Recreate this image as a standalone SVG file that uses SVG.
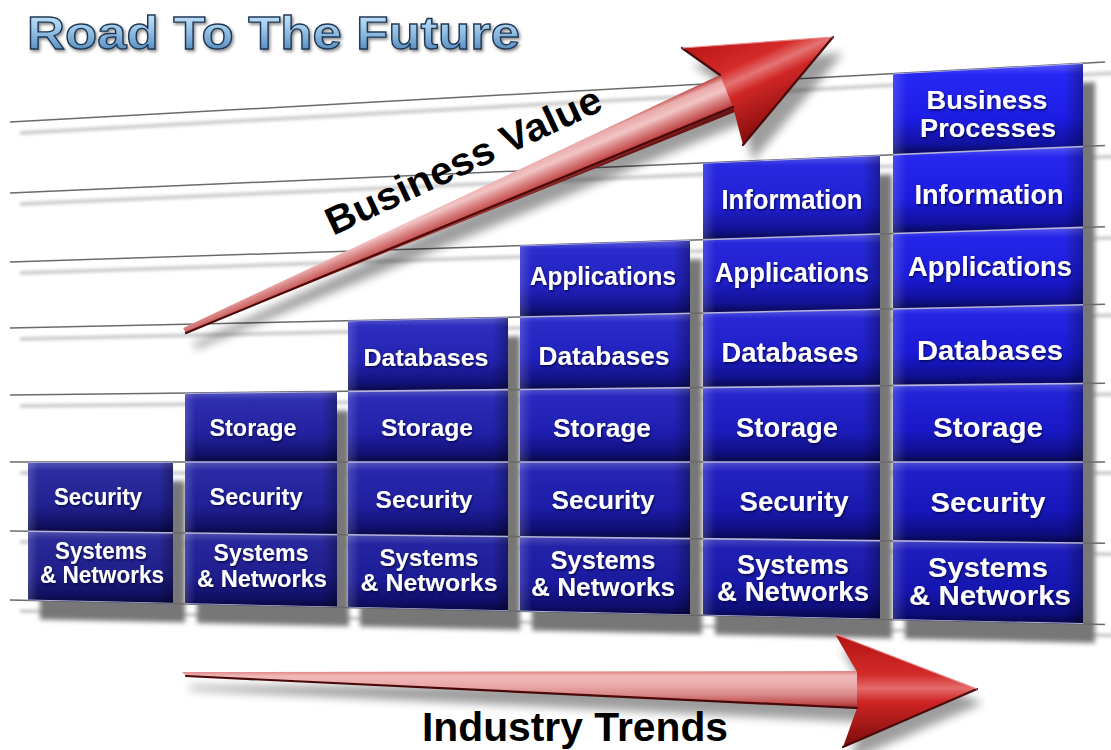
<svg xmlns="http://www.w3.org/2000/svg" xmlns:xlink="http://www.w3.org/1999/xlink" width="1111" height="750" viewBox="0 0 1111 750">
  <defs>
    <style>
      .lbl { font-family: "Liberation Sans", Arial, Helvetica, sans-serif; font-weight: bold; fill: #ffffff; text-anchor: middle; filter: url(#txtShadow); }
      .c1 .lbl { font-size: 23px; }
      .c2 .lbl { font-size: 23.5px; }
      .c3 .lbl { font-size: 24.5px; }
      .c4 .lbl { font-size: 25.5px; }
      .c5 .lbl { font-size: 27px; }
      .c6 .lbl { font-size: 28px; }
      .c6 .lbl.tight { font-size: 26.5px; }
      .caption { font-family: "Liberation Sans", Arial, Helvetica, sans-serif; font-weight: bold; fill: #000000; }
      .grid path { fill: none; }
      .shade-v { fill: url(#shadeV); }
      .shade-h { fill: url(#shadeH); }
      .edge { fill: none; stroke: #4a0909; stroke-width: 2.2; stroke-linecap: round; }
    </style>

    <!-- soft blurs for cast shadows -->
    <filter id="blurSm" x="-5%" y="-50%" width="110%" height="200%">
      <feGaussianBlur stdDeviation="1.6"/>
    </filter>
    <filter id="blurMd" x="-10%" y="-10%" width="120%" height="120%">
      <feGaussianBlur stdDeviation="2.6"/>
    </filter>
    <filter id="blurLg" x="-10%" y="-20%" width="120%" height="140%">
      <feGaussianBlur stdDeviation="5"/>
    </filter>
    <filter id="txtShadow" x="-10%" y="-30%" width="120%" height="160%">
      <feDropShadow dx="1" dy="1.5" stdDeviation="0.9" flood-color="#000030" flood-opacity="0.75"/>
    </filter>
    <filter id="titleShadow" x="-5%" y="-30%" width="110%" height="160%">
      <feDropShadow dx="1.5" dy="2" stdDeviation="1.5" flood-color="#000000" flood-opacity="0.45"/>
    </filter>

    <!-- title fill -->
    <linearGradient id="titleFill" x1="0" y1="0" x2="0" y2="1">
      <stop offset="0" stop-color="#d6ecfb"/>
      <stop offset="0.35" stop-color="#a9d0ef"/>
      <stop offset="0.7" stop-color="#6fa2cf"/>
      <stop offset="1" stop-color="#3a6c9c"/>
    </linearGradient>

    <!-- tile gradients, one per column -->
    <linearGradient id="cellG1" x1="0" y1="0" x2="0" y2="1">
      <stop offset="0" stop-color="#6a6ad8"/>
      <stop offset="0.12" stop-color="#3838c2"/>
      <stop offset="0.6" stop-color="#2b2bb2"/>
      <stop offset="0.88" stop-color="#17177a"/>
      <stop offset="1" stop-color="#0a0a42"/>
    </linearGradient>
    <linearGradient id="cellG2" x1="0" y1="0" x2="0" y2="1">
      <stop offset="0" stop-color="#6868dc"/>
      <stop offset="0.12" stop-color="#3535c8"/>
      <stop offset="0.6" stop-color="#2929ba"/>
      <stop offset="0.88" stop-color="#161680"/>
      <stop offset="1" stop-color="#0a0a46"/>
    </linearGradient>
    <linearGradient id="cellG3" x1="0" y1="0" x2="0" y2="1">
      <stop offset="0" stop-color="#6666e2"/>
      <stop offset="0.12" stop-color="#3232d0"/>
      <stop offset="0.6" stop-color="#2727c4"/>
      <stop offset="0.88" stop-color="#151588"/>
      <stop offset="1" stop-color="#0a0a4a"/>
    </linearGradient>
    <linearGradient id="cellG4" x1="0" y1="0" x2="0" y2="1">
      <stop offset="0" stop-color="#6464ea"/>
      <stop offset="0.12" stop-color="#2f2fda"/>
      <stop offset="0.6" stop-color="#2424d0"/>
      <stop offset="0.88" stop-color="#141490"/>
      <stop offset="1" stop-color="#0a0a4e"/>
    </linearGradient>
    <linearGradient id="cellG5" x1="0" y1="0" x2="0" y2="1">
      <stop offset="0" stop-color="#6060f4"/>
      <stop offset="0.12" stop-color="#2b2be8"/>
      <stop offset="0.6" stop-color="#2121dc"/>
      <stop offset="0.88" stop-color="#13139a"/>
      <stop offset="1" stop-color="#090952"/>
    </linearGradient>
    <linearGradient id="cellG6" x1="0" y1="0" x2="0" y2="1">
      <stop offset="0" stop-color="#5c5cff"/>
      <stop offset="0.12" stop-color="#2828f6"/>
      <stop offset="0.6" stop-color="#1d1dea"/>
      <stop offset="0.88" stop-color="#1212a4"/>
      <stop offset="1" stop-color="#080856"/>
    </linearGradient>

    <!-- column overlays: darker toward the floor, lit left edge, shaded right edge -->
    <linearGradient id="shadeV" gradientUnits="userSpaceOnUse" x1="0" y1="60" x2="0" y2="625">
      <stop offset="0" stop-color="#000020" stop-opacity="0"/>
      <stop offset="0.5" stop-color="#000020" stop-opacity="0.1"/>
      <stop offset="1" stop-color="#000020" stop-opacity="0.32"/>
    </linearGradient>
    <linearGradient id="shadeH" x1="0" y1="0" x2="1" y2="0">
      <stop offset="0" stop-color="#ffffff" stop-opacity="0.16"/>
      <stop offset="0.07" stop-color="#ffffff" stop-opacity="0"/>
      <stop offset="0.9" stop-color="#000000" stop-opacity="0"/>
      <stop offset="1" stop-color="#000000" stop-opacity="0.3"/>
    </linearGradient>

    <!-- arrow fills -->
    <linearGradient id="shaftUp" gradientUnits="userSpaceOnUse" x1="633" y1="113" x2="647" y2="146">
      <stop offset="0" stop-color="#c04a4a"/>
      <stop offset="0.15" stop-color="#e9a9a9"/>
      <stop offset="0.4" stop-color="#f2c4c4"/>
      <stop offset="0.6" stop-color="#dc8a8a"/>
      <stop offset="0.85" stop-color="#c44c4c"/>
      <stop offset="1" stop-color="#6a1414"/>
    </linearGradient>
    <linearGradient id="headUp" gradientUnits="userSpaceOnUse" x1="737" y1="20" x2="783" y2="120">
      <stop offset="0" stop-color="#b81414"/>
      <stop offset="0.38" stop-color="#d42a2a"/>
      <stop offset="0.5" stop-color="#e57474"/>
      <stop offset="0.62" stop-color="#d02626"/>
      <stop offset="1" stop-color="#8c0e0e"/>
    </linearGradient>
    <linearGradient id="shaftDn" gradientUnits="userSpaceOnUse" x1="0" y1="670" x2="0" y2="710">
      <stop offset="0" stop-color="#d87272"/>
      <stop offset="0.15" stop-color="#f0baba"/>
      <stop offset="0.4" stop-color="#eaa8a8"/>
      <stop offset="0.62" stop-color="#d98888"/>
      <stop offset="0.85" stop-color="#c24a4a"/>
      <stop offset="1" stop-color="#5a1010"/>
    </linearGradient>
    <linearGradient id="headDn" gradientUnits="userSpaceOnUse" x1="0" y1="634" x2="0" y2="747">
      <stop offset="0" stop-color="#b01414"/>
      <stop offset="0.36" stop-color="#d42a2a"/>
      <stop offset="0.48" stop-color="#e46c6c"/>
      <stop offset="0.6" stop-color="#cf2424"/>
      <stop offset="1" stop-color="#7a0c0c"/>
    </linearGradient>

    <!-- perspective guide lines -->
    <g id="gridLines">
      <path d="M10,122 L1105,62"/>
      <path d="M10,193 L1105,145.5"/>
      <path d="M10,262 L1105,226.7"/>
      <path d="M10,328 L1105,304.3"/>
      <path d="M10,395 L1105,383.2"/>
      <path d="M10,462 L1105,462"/>
      <path d="M10,531 L1105,543.2"/>
      <path d="M10,600 L1105,624.4"/>
    </g>

    <!-- column outlines -->
    <path id="out1" d="M28,462 L173,462 L173,603.6 L28,600.4 Z"/>
    <path id="out2" d="M185,393.1 L337,391.5 L337,607.3 L185,603.9 Z"/>
    <path id="out3" d="M348,320.7 L508,317.2 L508,611.1 L348,607.5 Z"/>
    <path id="out4" d="M520,245.5 L690,240.1 L690,615.1 L520,611.4 Z"/>
    <path id="out5" d="M703,162.9 L880,155.3 L880,619.4 L703,615.4 Z"/>
    <path id="out6" d="M893,73.6 L1083,63.1 L1083,623.9 L893,619.7 Z"/>

    <clipPath id="colsClip">
      <use xlink:href="#out1"/>
      <use xlink:href="#out2"/>
      <use xlink:href="#out3"/>
      <use xlink:href="#out4"/>
      <use xlink:href="#out5"/>
      <use xlink:href="#out6"/>
    </clipPath>

    <path id="arrowUp" d="M183,328 L720,75 L682,48 L833,37 L743,145 L733,107 L186,333 Z"/>
    <path id="arrowDn" d="M182,672 L857,672 L835,634 L977,689 L843,747 L857,708 L186,676 Z"/>
  </defs>

  <rect x="0" y="0" width="1111" height="750" fill="#ffffff"/>

  <!-- title -->
  <text id="title" x="27" y="49" font-family="Liberation Sans, Arial, sans-serif" font-weight="bold" font-size="47" textLength="493" lengthAdjust="spacingAndGlyphs" fill="url(#titleFill)" stroke="#1d3552" stroke-width="1.3" filter="url(#titleShadow)">Road To The Future</text>

  <!-- soft shadows cast by the guide lines -->
  <g id="grid-shadow" transform="translate(10,11)" stroke="#a8a8a8" stroke-width="4" opacity="0.55" filter="url(#blurSm)" fill="none">
    <use xlink:href="#gridLines"/>
  </g>

  <!-- shadows cast by the columns -->
  <g id="column-shadows" transform="translate(12,19)" fill="#777777" filter="url(#blurMd)">
    <use xlink:href="#out1"/>
    <use xlink:href="#out2"/>
    <use xlink:href="#out3"/>
    <use xlink:href="#out4"/>
    <use xlink:href="#out5"/>
    <use xlink:href="#out6"/>
  </g>

  <!-- guide lines -->
  <g id="grid" class="grid" stroke="#6a6a6a" stroke-width="1.5">
    <use xlink:href="#gridLines"/>
  </g>

  <!-- column 1 -->
  <g id="col-1" class="c1">
    <g fill="url(#cellG1)">
      <path d="M28,462 L173,462 L173,532.8 L28,531.2 Z"/>
      <path d="M28,531.2 L173,532.8 L173,603.6 L28,600.4 Z"/>
    </g>
    <use xlink:href="#out1" class="shade-v"/>
    <use xlink:href="#out1" class="shade-h"/>
    <text class="lbl" x="98" y="505" textLength="88" lengthAdjust="spacingAndGlyphs">Security</text>
    <text class="lbl" x="101" y="559" textLength="92" lengthAdjust="spacingAndGlyphs">Systems</text>
    <text class="lbl" x="102" y="583" textLength="124" lengthAdjust="spacingAndGlyphs">&amp; Networks</text>
  </g>

  <!-- column 2 -->
  <g id="col-2" class="c2">
    <g fill="url(#cellG2)">
      <path d="M185,393.1 L337,391.5 L337,462 L185,462 Z"/>
      <path d="M185,462 L337,462 L337,534.6 L185,532.9 Z"/>
      <path d="M185,532.9 L337,534.6 L337,607.3 L185,603.9 Z"/>
    </g>
    <use xlink:href="#out2" class="shade-v"/>
    <use xlink:href="#out2" class="shade-h"/>
    <text class="lbl" x="253" y="436" textLength="87" lengthAdjust="spacingAndGlyphs">Storage</text>
    <text class="lbl" x="256" y="505" textLength="93" lengthAdjust="spacingAndGlyphs">Security</text>
    <text class="lbl" x="261" y="561" textLength="95" lengthAdjust="spacingAndGlyphs">Systems</text>
    <text class="lbl" x="262" y="587" textLength="130" lengthAdjust="spacingAndGlyphs">&amp; Networks</text>
  </g>

  <!-- column 3 -->
  <g id="col-3" class="c3">
    <g fill="url(#cellG3)">
      <path d="M348,320.7 L508,317.2 L508,389.6 L348,391.3 Z"/>
      <path d="M348,391.3 L508,389.6 L508,462 L348,462 Z"/>
      <path d="M348,462 L508,462 L508,536.5 L348,534.8 Z"/>
      <path d="M348,534.8 L508,536.5 L508,611.1 L348,607.5 Z"/>
    </g>
    <use xlink:href="#out3" class="shade-v"/>
    <use xlink:href="#out3" class="shade-h"/>
    <text class="lbl" x="426" y="366" textLength="125" lengthAdjust="spacingAndGlyphs">Databases</text>
    <text class="lbl" x="427" y="436" textLength="92" lengthAdjust="spacingAndGlyphs">Storage</text>
    <text class="lbl" x="424" y="508" textLength="97" lengthAdjust="spacingAndGlyphs">Security</text>
    <text class="lbl" x="429" y="566" textLength="99" lengthAdjust="spacingAndGlyphs">Systems</text>
    <text class="lbl" x="429" y="591" textLength="137" lengthAdjust="spacingAndGlyphs">&amp; Networks</text>
  </g>

  <!-- column 4 -->
  <g id="col-4" class="c4">
    <g fill="url(#cellG4)">
      <path d="M520,245.5 L690,240.1 L690,313.3 L520,317 Z"/>
      <path d="M520,317 L690,313.3 L690,387.7 L520,389.5 Z"/>
      <path d="M520,389.5 L690,387.7 L690,462 L520,462 Z"/>
      <path d="M520,462 L690,462 L690,538.6 L520,536.7 Z"/>
      <path d="M520,536.7 L690,538.6 L690,615.1 L520,611.4 Z"/>
    </g>
    <use xlink:href="#out4" class="shade-v"/>
    <use xlink:href="#out4" class="shade-h"/>
    <text class="lbl" x="603" y="285" textLength="146" lengthAdjust="spacingAndGlyphs">Applications</text>
    <text class="lbl" x="604" y="365" textLength="131" lengthAdjust="spacingAndGlyphs">Databases</text>
    <text class="lbl" x="602" y="437" textLength="98" lengthAdjust="spacingAndGlyphs">Storage</text>
    <text class="lbl" x="603" y="509" textLength="103" lengthAdjust="spacingAndGlyphs">Security</text>
    <text class="lbl" x="603" y="569" textLength="105" lengthAdjust="spacingAndGlyphs">Systems</text>
    <text class="lbl" x="603" y="596" textLength="144" lengthAdjust="spacingAndGlyphs">&amp; Networks</text>
  </g>

  <!-- column 5 -->
  <g id="col-5" class="c5">
    <g fill="url(#cellG5)">
      <path d="M703,162.9 L880,155.3 L880,233.9 L703,239.6 Z"/>
      <path d="M703,239.6 L880,233.9 L880,309.2 L703,313 Z"/>
      <path d="M703,313 L880,309.2 L880,385.6 L703,387.5 Z"/>
      <path d="M703,387.5 L880,385.6 L880,462 L703,462 Z"/>
      <path d="M703,462 L880,462 L880,540.7 L703,538.7 Z"/>
      <path d="M703,538.7 L880,540.7 L880,619.4 L703,615.4 Z"/>
    </g>
    <use xlink:href="#out5" class="shade-v"/>
    <use xlink:href="#out5" class="shade-h"/>
    <text class="lbl" x="792" y="209" textLength="141" lengthAdjust="spacingAndGlyphs">Information</text>
    <text class="lbl" x="792" y="282" textLength="154" lengthAdjust="spacingAndGlyphs">Applications</text>
    <text class="lbl" x="790" y="362" textLength="137" lengthAdjust="spacingAndGlyphs">Databases</text>
    <text class="lbl" x="787" y="437" textLength="102" lengthAdjust="spacingAndGlyphs">Storage</text>
    <text class="lbl" x="794" y="511" textLength="109" lengthAdjust="spacingAndGlyphs">Security</text>
    <text class="lbl" x="793" y="574" textLength="112" lengthAdjust="spacingAndGlyphs">Systems</text>
    <text class="lbl" x="793" y="601" textLength="152" lengthAdjust="spacingAndGlyphs">&amp; Networks</text>
  </g>

  <!-- column 6 -->
  <g id="col-6" class="c6">
    <g fill="url(#cellG6)">
      <path d="M893,73.6 L1083,63.1 L1083,146.4 L893,154.7 Z"/>
      <path d="M893,154.7 L1083,146.4 L1083,227.4 L893,233.5 Z"/>
      <path d="M893,233.5 L1083,227.4 L1083,304.8 L893,308.9 Z"/>
      <path d="M893,308.9 L1083,304.8 L1083,383.4 L893,385.5 Z"/>
      <path d="M893,385.5 L1083,383.4 L1083,462 L893,462 Z"/>
      <path d="M893,462 L1083,462 L1083,542.9 L893,540.8 Z"/>
      <path d="M893,540.8 L1083,542.9 L1083,623.9 L893,619.7 Z"/>
    </g>
    <use xlink:href="#out6" class="shade-v"/>
    <use xlink:href="#out6" class="shade-h"/>
    <text class="lbl tight" x="987" y="109" textLength="121" lengthAdjust="spacingAndGlyphs">Business</text>
    <text class="lbl tight" x="988" y="137" textLength="136" lengthAdjust="spacingAndGlyphs">Processes</text>
    <text class="lbl" x="989" y="204" textLength="149" lengthAdjust="spacingAndGlyphs">Information</text>
    <text class="lbl" x="990" y="276" textLength="164" lengthAdjust="spacingAndGlyphs">Applications</text>
    <text class="lbl" x="990" y="360" textLength="146" lengthAdjust="spacingAndGlyphs">Databases</text>
    <text class="lbl" x="988" y="437" textLength="110" lengthAdjust="spacingAndGlyphs">Storage</text>
    <text class="lbl" x="988" y="512" textLength="115" lengthAdjust="spacingAndGlyphs">Security</text>
    <text class="lbl" x="988" y="577" textLength="120" lengthAdjust="spacingAndGlyphs">Systems</text>
    <text class="lbl" x="990" y="605" textLength="162" lengthAdjust="spacingAndGlyphs">&amp; Networks</text>
  </g>

  <!-- guide lines seen across the tiles -->
  <g id="grid-on-tiles" class="grid" clip-path="url(#colsClip)" stroke="#b4b4dc" stroke-width="1.6">
    <use xlink:href="#gridLines"/>
  </g>

  <!-- rising arrow -->
  <g id="arrow-value">
    <use xlink:href="#arrowUp" transform="translate(10,16)" fill="#000000" opacity="0.38" filter="url(#blurLg)"/>
    <path d="M183,328 L722,74 L740,110 L186,333 Z" fill="url(#shaftUp)"/>
    <path d="M720,75 L682,48 L833,37 L743,145 L733,107 Z" fill="url(#headUp)"/>
    <path class="edge" d="M186,333 L733,107"/>
    <path class="edge" d="M833,37 L743,145" stroke-width="2.6"/>
    <path class="edge" d="M682,48 L720,75" stroke-width="1.4"/>
    <path d="M682,48 L833,37" fill="none" stroke="#e88a8a" stroke-width="1.2"/>
  </g>
  <text id="label-value" class="caption" transform="translate(333,236) rotate(-25)" x="0" y="0" font-size="39" textLength="300" lengthAdjust="spacingAndGlyphs">Business Value</text>

  <!-- horizontal arrow -->
  <g id="arrow-trends">
    <use xlink:href="#arrowDn" transform="translate(6,14)" fill="#000000" opacity="0.38" filter="url(#blurLg)"/>
    <path d="M182,672 L862,671 L862,709 L186,676 Z" fill="url(#shaftDn)"/>
    <path d="M857,672 L835,634 L977,689 L843,747 L857,708 Z" fill="url(#headDn)"/>
    <path class="edge" d="M186,676 L857,708"/>
    <path class="edge" d="M977,689 L843,747" stroke-width="2.6"/>
    <path d="M835,634 L977,689" fill="none" stroke="#e88a8a" stroke-width="1.2"/>
  </g>
  <text id="label-trends" class="caption" x="575" y="741" font-size="40" text-anchor="middle" textLength="306" lengthAdjust="spacingAndGlyphs">Industry Trends</text>
</svg>
